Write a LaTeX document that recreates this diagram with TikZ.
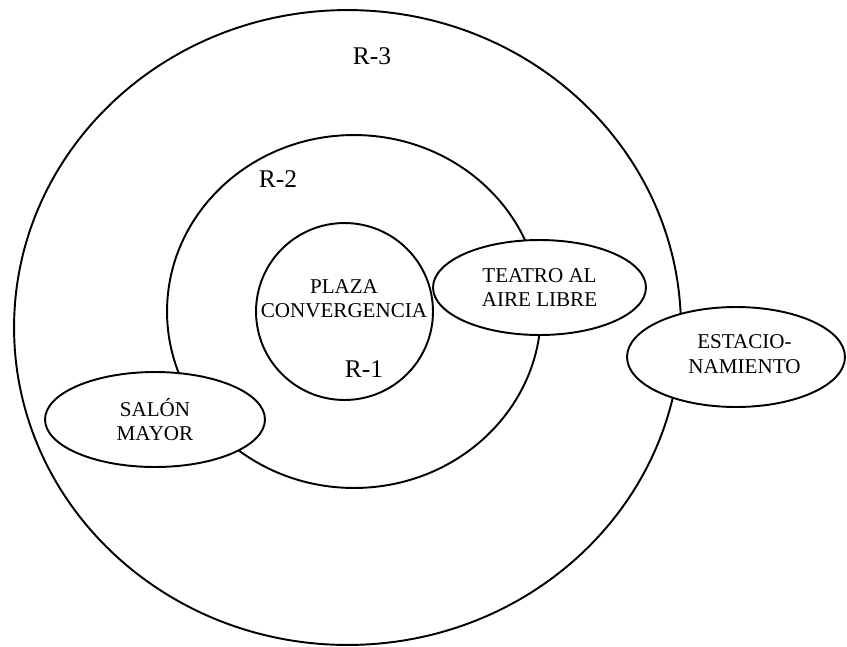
\documentclass[tikz,border=0pt]{standalone}
\usepackage{fontspec}
\setmainfont{Liberation Serif}
\usetikzlibrary{shapes.geometric}

\begin{document}
\begin{tikzpicture}[x=0.02cm, y=-0.02cm,
  zone/.style={draw, line width=1.1pt, ellipse, inner sep=0pt},
  area/.style={zone, fill=white, align=center, font=\fontsize{12}{13.8}\selectfont},
  areatext/.style={align=center, inner sep=0pt, font=\fontsize{12}{13.8}\selectfont},
  ringtext/.style={inner sep=0pt, font=\fontsize{14.5}{17}\selectfont}]
  \useasboundingbox (0,0) rectangle (847,646);
  % rings R-3, R-2, R-1
  \node[zone, minimum width=13.34cm, minimum height=12.70cm] (r3) at (347.5,327.5) {};
  \node[zone, minimum width=7.48cm, minimum height=7.06cm] (r2) at (354,311.5) {};
  \node[zone, minimum width=3.54cm, minimum height=3.54cm] (r1) at (344.5,311.5) {};
  \node[ringtext] (r3label) at (372,56) {R-3};
  \node[ringtext] (r2label) at (278,179) {R-2};
  \node[ringtext] (r1label) at (364,369) {R-1};
  \node[areatext] (plaza) at (344,298.5) {PLAZA\\CONVERGENCIA};
  % areas around the rings
  \node[area, minimum width=4.26cm, minimum height=1.90cm] (teatro) at (539.5,287.5) {TEATRO AL\\AIRE LIBRE};
  \node[area, minimum width=4.40cm, minimum height=1.90cm] (salon) at (155,419.5) {SALÓN\\MAYOR};
  \node[area, minimum width=4.36cm, minimum height=2.00cm] (estac) at (736,357) {};
  \node[areatext] (estaclabel) at (744.5,354) {ESTACIO-\\NAMIENTO};
\end{tikzpicture}
\end{document}
